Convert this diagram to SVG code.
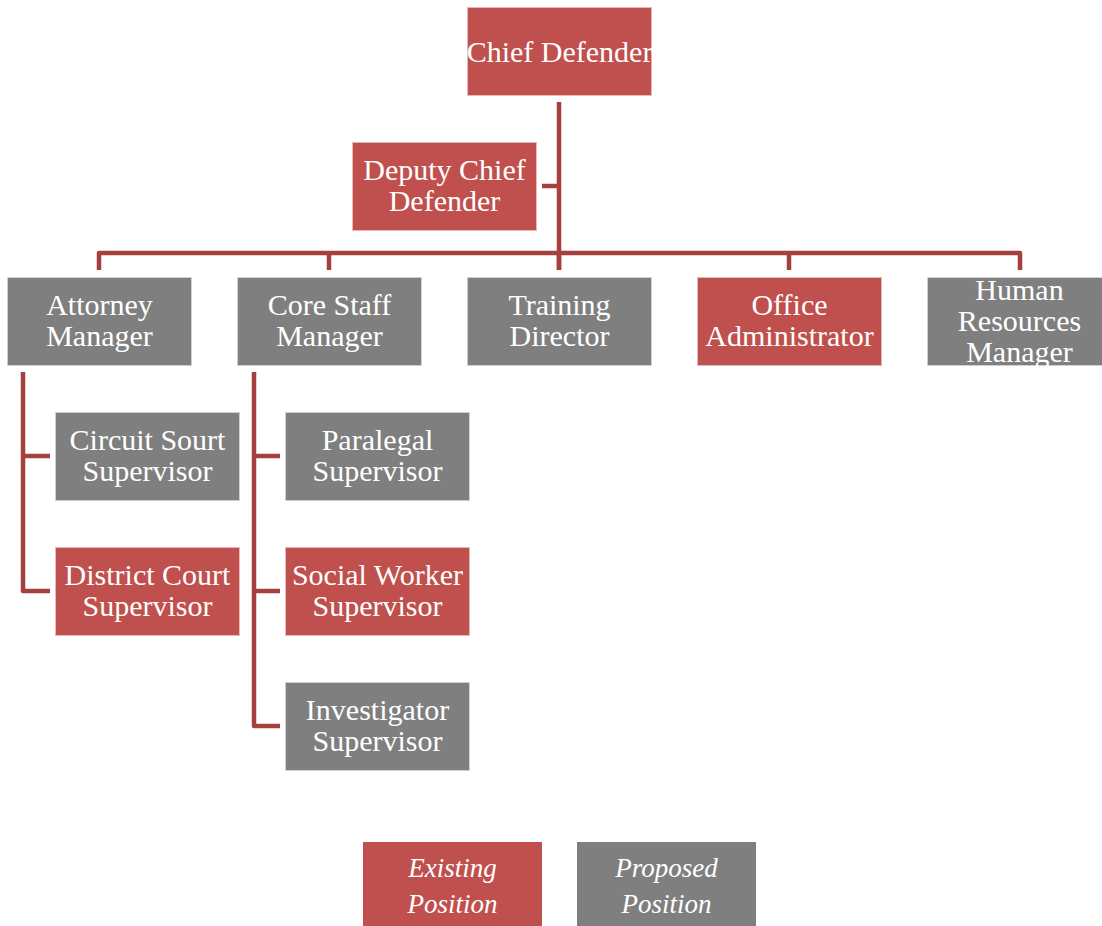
<svg xmlns="http://www.w3.org/2000/svg" width="1102" height="926" viewBox="0 0 1102 926">
<style>
.r{fill:#C0504D;stroke:#E6B9B8;stroke-width:1}
.g{fill:#7F7F7F;stroke:#D0D0D0;stroke-width:1}
text{font-family:"Liberation Serif","DejaVu Serif",serif;font-size:30px;fill:#FFFFFF;text-anchor:middle}
.i{font-style:italic;font-size:27px}
.c{fill:none;stroke:#A5403E;stroke-width:4.5;stroke-linejoin:round}
</style>
<rect width="1102" height="926" fill="#FFFFFF"/>
<g id="connectors">
<path class="c" d="M559,102 V270"/>
<path class="c" d="M542,186 H559"/>
<path class="c" d="M99,270 V253 H1020 V270"/>
<path class="c" d="M329,253 V270 M559,253 V270 M789,253 V270"/>
<path class="c" d="M23,372 V591 H50 M23,456 H50"/>
<path class="c" d="M254,372 V726 H280 M254,456 H280 M254,591 H280"/>
</g>
<g id="chief"><rect class="r" x="467.5" y="7.5" width="184" height="88"/><text x="559.5" y="62">Chief Defender</text></g>
<g id="deputy"><rect class="r" x="352.5" y="142.5" width="184" height="88"/><text x="444.5" y="180">Deputy Chief</text><text x="444.5" y="211">Defender</text></g>
<g id="attorney"><rect class="g" x="7.5" y="277.5" width="184" height="88"/><text x="99.5" y="315">Attorney</text><text x="99.5" y="346">Manager</text></g>
<g id="corestaff"><rect class="g" x="237.5" y="277.5" width="184" height="88"/><text x="329.5" y="315">Core Staff</text><text x="329.5" y="346">Manager</text></g>
<g id="training"><rect class="g" x="467.5" y="277.5" width="184" height="88"/><text x="559.5" y="315">Training</text><text x="559.5" y="346">Director</text></g>
<g id="office"><rect class="r" x="697.5" y="277.5" width="184" height="88"/><text x="789.5" y="315">Office</text><text x="789.5" y="346">Administrator</text></g>
<g id="hr"><rect class="g" x="927.5" y="277.5" width="184" height="88"/><text x="1019.5" y="300">Human</text><text x="1019.5" y="331">Resources</text><text x="1019.5" y="362">Manager</text></g>
<g id="circuit"><rect class="g" x="55.5" y="412.5" width="184" height="88"/><text x="147.5" y="450">Circuit Sourt</text><text x="147.5" y="481">Supervisor</text></g>
<g id="district"><rect class="r" x="55.5" y="547.5" width="184" height="88"/><text x="147.5" y="585">District Court</text><text x="147.5" y="616">Supervisor</text></g>
<g id="paralegal"><rect class="g" x="285.5" y="412.5" width="184" height="88"/><text x="377.5" y="450">Paralegal</text><text x="377.5" y="481">Supervisor</text></g>
<g id="social"><rect class="r" x="285.5" y="547.5" width="184" height="88"/><text x="377.5" y="585">Social Worker</text><text x="377.5" y="616">Supervisor</text></g>
<g id="investigator"><rect class="g" x="285.5" y="682.5" width="184" height="88"/><text x="377.5" y="720">Investigator</text><text x="377.5" y="751">Supervisor</text></g>
<g id="legend-existing"><rect x="363" y="842" width="179" height="84" fill="#C0504D"/><text class="i" x="452.5" y="877">Existing</text><text class="i" x="452.5" y="913">Position</text></g>
<g id="legend-proposed"><rect x="577" y="842" width="179" height="84" fill="#7F7F7F"/><text class="i" x="666.5" y="877">Proposed</text><text class="i" x="666.5" y="913">Position</text></g>
</svg>
